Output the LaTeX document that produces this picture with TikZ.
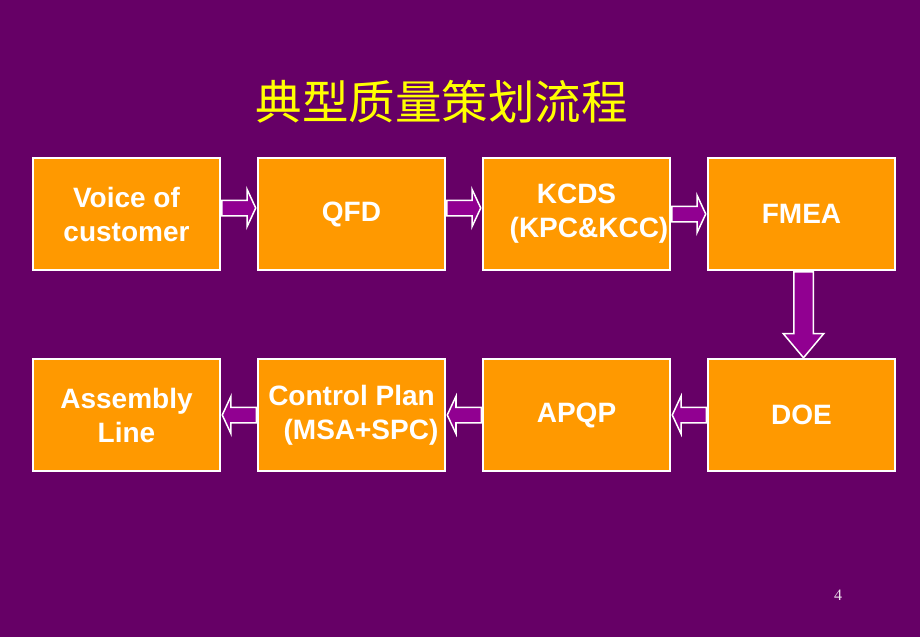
\documentclass[tikz,border=0pt]{standalone}
\usepackage{fontspec}
\setmainfont{Liberation Sans}
\newfontfamily\cjkfont{Noto Sans CJK SC}
\newfontfamily\pagefont{Liberation Serif}
\usetikzlibrary{positioning, shapes.arrows, calc}

\definecolor{bgpurple}{RGB}{102,0,102}
\definecolor{boxorange}{RGB}{255,153,0}
\definecolor{arrowpurple}{RGB}{145,0,145}
\definecolor{titleyellow}{RGB}{255,255,0}
\definecolor{pagegray}{RGB}{235,225,235}

\tikzset{
  stepbox/.style={draw=white, line width=2pt, fill=boxorange, text=white,
    minimum width=187pt, minimum height=112pt, align=center, inner sep=0pt,
    font=\fontsize{28}{34}\selectfont\bfseries},
  flowarrow/.style={single arrow, draw=white, line width=1.5pt, fill=arrowpurple,
    inner xsep=0pt, inner ysep=7pt, single arrow head extend=11pt,
    single arrow tip angle=130, minimum height=34pt, anchor=tail},
  backarrow/.style={flowarrow, shape border rotate=180},
  downarrow/.style={flowarrow, inner xsep=9pt, inner ysep=0pt, single arrow head extend=10.5pt,
    single arrow tip angle=80, minimum height=86pt, shape border rotate=270}
}

\begin{document}
\begin{tikzpicture}[x=1pt,y=-1pt,node distance=87pt and 36pt]
  \fill[bgpurple] (0,0) rectangle (920,637);

  \node[text=titleyellow, font=\cjkfont\fontsize{46.5}{50}\selectfont] (title) at (441.5,102) {典型质量策划流程};

  % top row
  \node[stepbox] (voc) at (126.5,214) {Voice of\\customer};
  \node[stepbox] (qfd) [right=of voc] {QFD};
  \node[stepbox] (kcds) [right=of qfd] {KCDS\\\rule{25pt}{0pt}(KPC\&KCC)};
  \node[stepbox] (fmea) [right=of kcds] {FMEA};

  % bottom row
  \node[stepbox] (doe) [below=of fmea] {DOE};
  \node[stepbox] (apqp) [left=of doe] {APQP};
  \node[stepbox] (cplan) [left=of apqp] {Control Plan\\\rule{19pt}{0pt}(MSA+SPC)};
  \node[stepbox] (asm) [left=of cplan] {Assembly\\Line};

  % arrows, tail on the box they leave
  \node[flowarrow, yshift=6pt] (a1) at (voc.east) {};
  \node[flowarrow, yshift=6pt] (a2) at (qfd.east) {};
  \node[flowarrow] (a3) at (kcds.east) {};
  \node[downarrow, xshift=2pt] (a4) at (fmea.south) {};
  \node[backarrow] (a5) at (doe.west) {};
  \node[backarrow] (a6) at (apqp.west) {};
  \node[backarrow] (a7) at (cplan.west) {};

  \node[text=pagegray, font=\pagefont\fontsize{16}{18}\selectfont] (pagenum) at (838,595) {4};
\end{tikzpicture}
\end{document}
